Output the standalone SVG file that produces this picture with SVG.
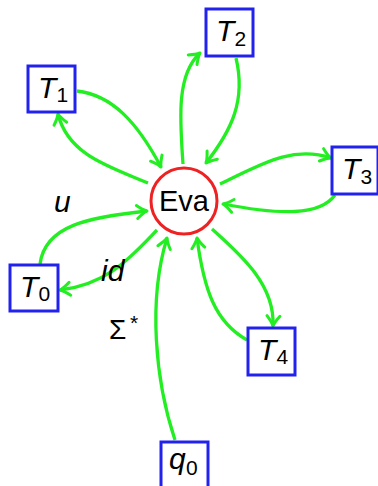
<svg xmlns="http://www.w3.org/2000/svg" width="378" height="486" viewBox="0 0 378 486">
<defs>
<marker id="arr" markerUnits="userSpaceOnUse" markerWidth="20" markerHeight="20" viewBox="-12 -10 14 20" refX="0" refY="0" orient="auto">
<path d="M-10,-6.5 Q-4,-1.5 0,0 Q-4,1.5 -10,6.5" fill="none" stroke="#22ee22" stroke-width="3" stroke-linecap="round" stroke-linejoin="round"/>
</marker>
</defs>
<style>
.box{fill:#fff;stroke:#2222ee;stroke-width:3}
.e{fill:none;stroke:#22ee22;stroke-width:3.3;marker-end:url(#arr)}
.lab{font-family:"Liberation Sans",Arial,sans-serif;fill:#000}
.it{font-style:italic;font-size:30px}
.sub{font-style:normal;font-size:21px}
</style>
<g id="connectors">
<path class="e" d="M77,91 C112,95 137,122 161,167"/>
<path class="e" d="M148,183 C110,167 68,155 58,114"/>
<path class="e" d="M183,164 C180,120 176,75 200,53"/>
<path class="e" d="M236,58 C246,100 232,130 206,163"/>
<path class="e" d="M220,184 C260,165 292,145 331,158"/>
<path class="e" d="M335,195 C320,216 280,215 223,204"/>
<path class="e" d="M40,264 C45,225 90,217 147,211"/>
<path class="e" d="M157,230 C130,258 108,284 60,290"/>
<path class="e" d="M247,340 C215,322 204,290 197,238"/>
<path class="e" d="M212,229 C242,256 275,285 273,326"/>
<path class="e" d="M175,440 C155,380 148,300 167,238"/>
</g>
<g id="labels" class="lab">
<text x="54" y="212" class="it" font-size="28">u</text>
<text x="101" y="281" class="it" font-size="28">id</text>
<text x="109" y="339" font-size="28">Σ<tspan x="130" y="330" font-size="21">*</tspan></text>
</g>
<g id="Eva">
<circle cx="184" cy="201" r="33" fill="#fff" stroke="#ee2222" stroke-width="3"/>
<text x="184" y="211" class="lab" font-size="29" text-anchor="middle">Eva</text>
</g>
<g id="T1">
<rect class="box" x="28" y="66" width="47" height="46"/>
<text class="lab it" x="38" y="98">T<tspan class="sub" x="56.5" y="102">1</tspan></text>
</g>
<g id="T2">
<rect class="box" x="206" y="9" width="47" height="47"/>
<text class="lab it" x="216" y="41">T<tspan class="sub" x="234.5" y="46">2</tspan></text>
</g>
<g id="T3">
<rect class="box" x="332" y="147" width="46" height="47"/>
<text class="lab it" x="342" y="179">T<tspan class="sub" x="360.5" y="184">3</tspan></text>
</g>
<g id="T0">
<rect class="box" x="10" y="265" width="48" height="46"/>
<text class="lab it" x="20" y="297">T<tspan class="sub" x="38.5" y="301">0</tspan></text>
</g>
<g id="T4">
<rect class="box" x="248" y="328" width="47" height="47"/>
<text class="lab it" x="258" y="360">T<tspan class="sub" x="276.5" y="364">4</tspan></text>
</g>
<g id="q0">
<rect class="box" x="161" y="442" width="47" height="47"/>
<text class="lab it" x="169" y="469">q<tspan class="sub" x="186" y="475">0</tspan></text>
</g>
</svg>
